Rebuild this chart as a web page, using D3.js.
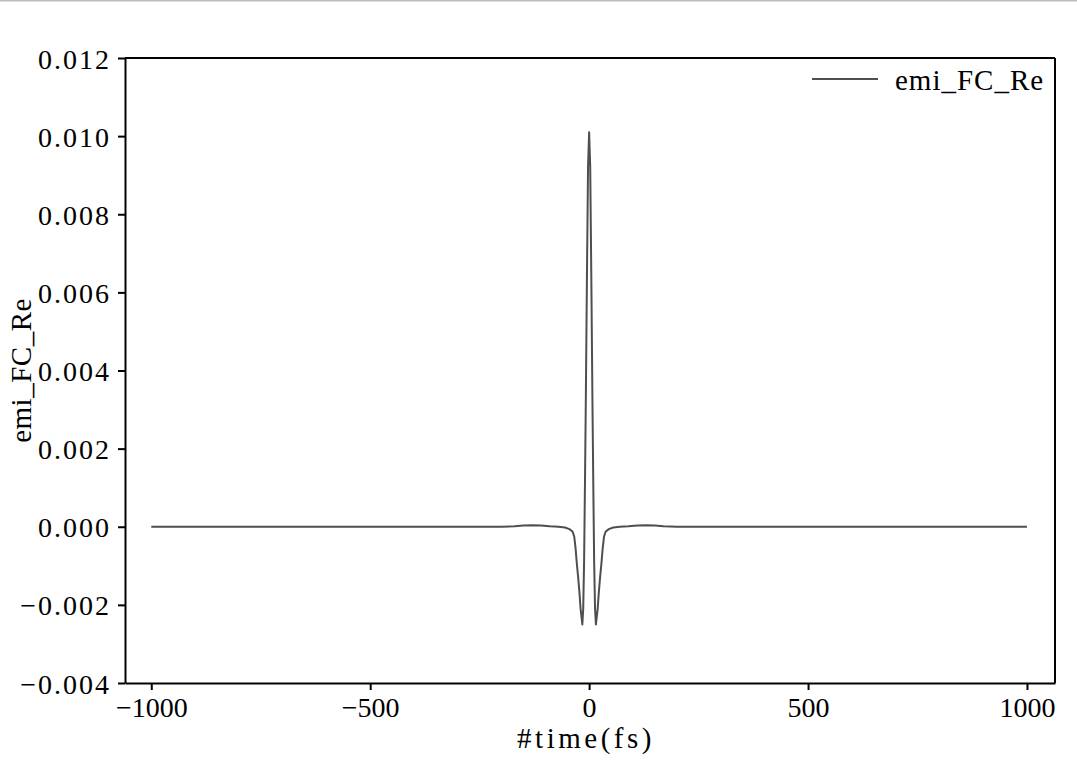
<!DOCTYPE html>
<html lang="en">
<head>
  <meta charset="UTF-8" />
  <title>emi_FC_Re</title>
  <script src="https://d3js.org/d3.v7.min.js"></script>
  <style>
    body { margin: 0; background: #fff; }
    svg { display: block; font-family: "Liberation Serif", "DejaVu Serif", serif; }
    .axis path, .axis line { stroke: #000; stroke-width: 2; }
    .axis text { font-size: 28px; fill: #000; font-family: "Liberation Serif", serif; }
    .y-axis text { letter-spacing: 2px; }
  </style>
</head>
<body>
<svg id="chart" width="1077" height="760"></svg>
<script>
// time (fs) and emi_FC_Re (curve is close to symmetric about t = 0)
const timeLeft = [-1000, -800, -600, -400, -300, -200, -170, -150, -130, -110, -90, -70, -55, -45, -38, -34, -31, -28, -25, -22, -19.5, -17.5, -15.5, -13.5, -11.5, -9.5, -7.5, -5, -2.5];
const valueLeft = [0, 0, 0, 0, 0, 0, 0.00001, 0.00003, 0.00004, 0.00003, 0.00001, 0, -0.00002, -0.00006, -0.00012, -0.00025, -0.00055, -0.00095, -0.0013, -0.0017, -0.0021, -0.0023, -0.0025, -0.0021, -0.0009, 0.0011, 0.0033, 0.0064, 0.0092];
const peakValue = 0.0101;

const xTicks = [-1000, -500, 0, 500, 1000];
const yTicks = [-0.004, -0.002, 0, 0.002, 0.004, 0.006, 0.008, 0.010, 0.012];

const seriesName = "emi_FC_Re";
const xLabel = "#time(fs)";

// mirror the left half to build the full series
const data = timeLeft.map((t, i) => ({ t, v: valueLeft[i] }))
  .concat([{ t: 0, v: peakValue }])
  .concat(timeLeft.slice().reverse().map((t, i) => ({ t: -t, v: valueLeft[valueLeft.length - 1 - i] })));

const svg = d3.select("#chart");
const plotLeft = 125, plotRight = 1055, plotTop = 58, plotBottom = 683;

// thin grey rule at the very top of the picture
svg.append("rect").attr("x", 0).attr("y", 0).attr("width", 1077).attr("height", 1.5).attr("fill", "#bdbdbd");

const x = d3.scaleLinear().domain([-1060, 1064]).range([plotLeft, plotRight]);
const y = d3.scaleLinear().domain([-0.004, 0.012]).range([plotBottom, plotTop]);

const line = d3.line().x(d => x(d.t)).y(d => y(d.v));

svg.append("path")
  .datum(data)
  .attr("fill", "none")
  .attr("stroke", "#4f4f4f")
  .attr("stroke-width", 2)
  .attr("stroke-linejoin", "round")
  .attr("d", line);

// frame (top and right)
svg.append("line").attr("x1", plotLeft).attr("x2", plotRight).attr("y1", plotTop).attr("y2", plotTop).attr("stroke", "#000").attr("stroke-width", 2);
svg.append("line").attr("x1", plotRight).attr("x2", plotRight).attr("y1", plotTop).attr("y2", plotBottom).attr("stroke", "#000").attr("stroke-width", 2);

svg.append("g")
  .attr("class", "axis")
  .attr("transform", `translate(0,${plotBottom})`)
  .call(d3.axisBottom(x).tickValues(xTicks).tickSize(7).tickSizeOuter(0).tickPadding(5).tickFormat(d3.format("d")))
  .call(g => g.selectAll("text").attr("dy", "0.78em"));

svg.append("g")
  .attr("class", "axis y-axis")
  .attr("transform", `translate(${plotLeft},0)`)
  .call(d3.axisLeft(y).tickValues(yTicks).tickSize(7).tickSizeOuter(0).tickPadding(7).tickFormat(d3.format(".3f")))
  .call(g => g.selectAll("text").attr("dy", "0.36em"));

svg.append("text")
  .attr("x", 586).attr("y", 748)
  .attr("text-anchor", "middle")
  .attr("font-size", 29)
  .attr("letter-spacing", 3.5)
  .text(xLabel);

svg.append("text")
  .attr("transform", `translate(31,${(plotTop + plotBottom) / 2}) rotate(-90)`)
  .attr("text-anchor", "middle")
  .attr("font-size", 29)
  .attr("letter-spacing", 0.5)
  .text(seriesName);

// legend
svg.append("line").attr("x1", 812).attr("x2", 878).attr("y1", 79).attr("y2", 79)
  .attr("stroke", "#4f4f4f").attr("stroke-width", 2);
svg.append("text").attr("x", 895).attr("y", 90).attr("font-size", 29).attr("letter-spacing", 1).text(seriesName);
</script>
</body>
</html>
